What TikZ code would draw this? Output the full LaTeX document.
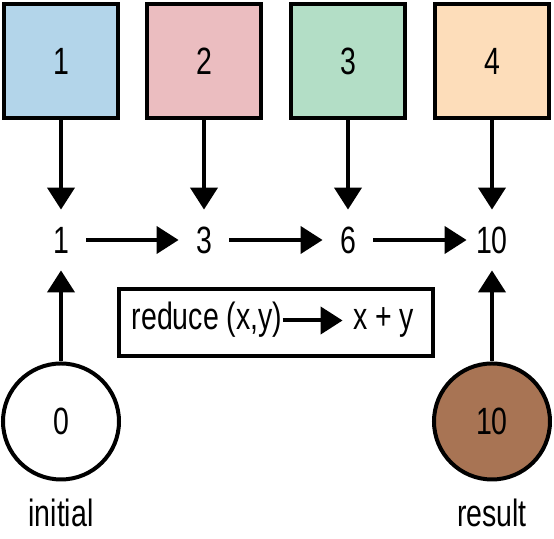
\documentclass[tikz,border=0pt]{standalone}
\usepackage{fontspec}
\setmainfont[FakeStretch=0.75]{Liberation Sans}
\usetikzlibrary{arrows.meta,positioning}
\definecolor{partblue}{RGB}{179,213,234}
\definecolor{partred}{RGB}{235,189,192}
\definecolor{partgreen}{RGB}{179,222,198}
\definecolor{partorange}{RGB}{253,221,186}
\definecolor{resbrown}{RGB}{168,116,84}

\begin{document}
\begin{tikzpicture}[x=.5pt,y=-.5pt,
  every node/.style={font=\fontsize{19}{23}\selectfont},
  part/.style={draw,line width=2pt,minimum size=57pt,inner sep=0pt},
  acc/.style={minimum width=25pt,minimum height=30pt,inner sep=0pt},
  ends/.style={circle,draw,line width=2pt,minimum size=58pt,inner sep=0pt},
  rtext/.style={inner sep=0pt,anchor=base,text height=13.5pt,text depth=4pt},
  flow/.style={-{Triangle[length=11pt,width=13.5pt]},line width=2pt}]
\useasboundingbox (0,0) rectangle (554,539);
% the parts of the collection
\node[part,fill=partblue] (p1) at (61,61) {1};
\node[part,fill=partred] (p2) at (204,61) {2};
\node[part,fill=partgreen] (p3) at (348,61) {3};
\node[part,fill=partorange] (p4) at (492,61) {4};
% running sums
\node[acc] (a1) at (61,240) {1};
\node[acc] (a2) at (204,240) {3};
\node[acc] (a3) at (348,240) {6};
\node[acc] (a4) at (492,240) {10};
% start and end values
\node[ends] (init) at (61,421.5) {0};
\node[ends,fill=resbrown] (res) at (492,421.5) {10};
\node[anchor=base,inner sep=0pt] (initlbl) at (61,527) {initial};
\node[anchor=base,inner sep=0pt] (reslbl) at (492,527) {result};
% the reducing function
\node[draw,line width=2pt,minimum width=157pt,minimum height=33.5pt,inner sep=0pt] (fbox) at (276,322.5) {};
\node[rtext] (fin) at (207,330) {reduce (x,y)};
\node[rtext] (fout) at (383.5,330) {x + y};
\draw[flow,shorten >=5pt] (fin) -- (fout);
\draw[flow] (p1) -- (a1);
\draw[flow] (p2) -- (a2);
\draw[flow] (p3) -- (a3);
\draw[flow] (p4) -- (a4);
\draw[flow] (a1) -- (a2);
\draw[flow] (a2) -- (a3);
\draw[flow] (a3) -- (a4);
\draw[flow] (init) -- (a1);
\draw[flow] (res) -- (a4);
\end{tikzpicture}
\end{document}
